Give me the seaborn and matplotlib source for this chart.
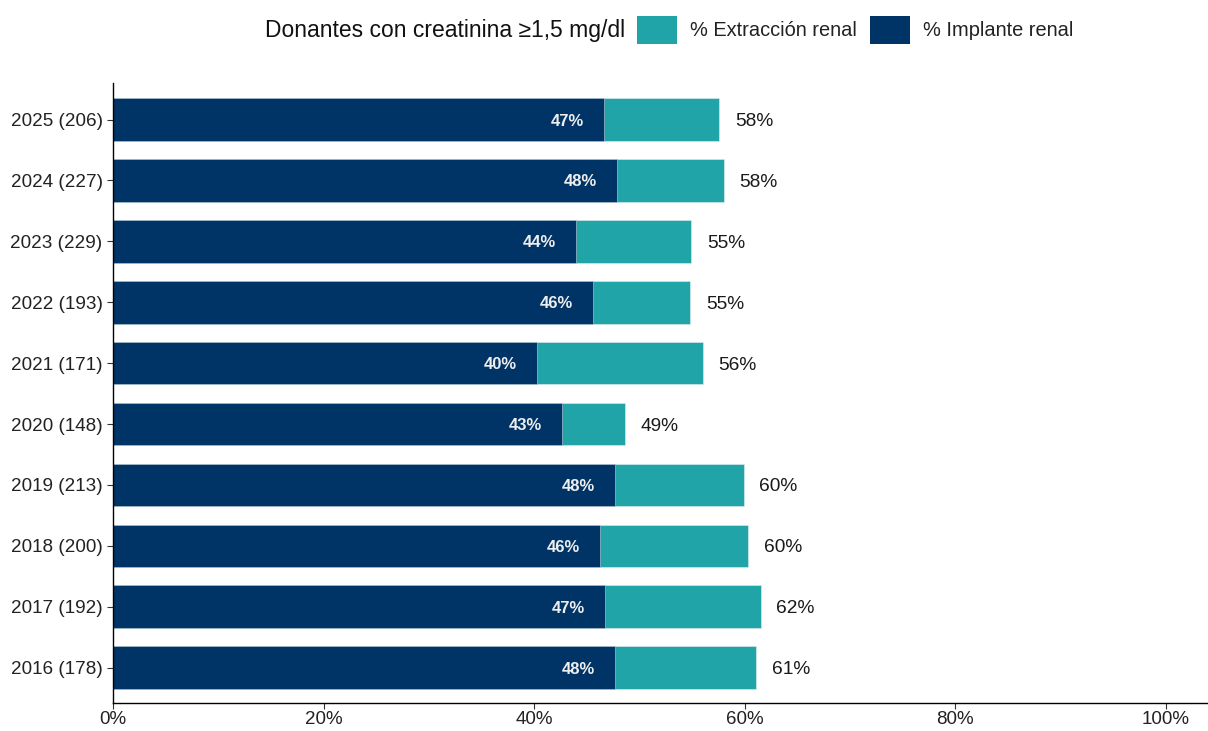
import matplotlib
matplotlib.use("Agg")
import matplotlib.pyplot as plt
import seaborn as sns
import pandas as pd
from matplotlib.patches import Patch
from matplotlib.ticker import FuncFormatter

categories = ["2025 (206)", "2024 (227)", "2023 (229)", "2022 (193)", "2021 (171)",
              "2020 (148)", "2019 (213)", "2018 (200)", "2017 (192)", "2016 (178)"]
implante = [46.6, 47.9, 44.0, 45.6, 40.3, 42.6, 47.7, 46.3, 46.7, 47.7]
extraccion = [57.6, 58.0, 54.9, 54.8, 56.0, 48.6, 59.9, 60.3, 61.5, 61.1]
xticks = [0, 20, 40, 60, 80, 100]

df = pd.DataFrame({"cat": categories, "implante": implante, "extraccion": extraccion})

sns.set_theme(style="white")
plt.rcParams["font.family"] = ["Liberation Sans", "DejaVu Sans"]

c_ext = "#20A4A8"
c_imp = "#003366"

fig = plt.figure(figsize=(12.08, 7.31), dpi=100)
ax = fig.add_axes([113 / 1208, 28 / 731, 1095 / 1208, 620 / 731])

sns.barplot(data=df, y="cat", x="extraccion", orient="h", color=c_ext, width=0.7,
            saturation=1, ax=ax, order=categories, linewidth=0.4, edgecolor="#dfeff0")
sns.barplot(data=df, y="cat", x="implante", orient="h", color=c_imp, width=0.7,
            saturation=1, ax=ax, order=categories, linewidth=0.4, edgecolor="#c9d3df")

for i, (imp, ext) in enumerate(zip(implante, extraccion)):
    ax.text(imp - 1.9, i, f"{round(imp + 1e-9):.0f}%", ha="right", va="center_baseline",
            color="#EEEEEE", fontsize=12, fontweight="bold")
    ax.text(ext + 1.5, i, f"{int(ext + 0.5)}%", ha="left", va="center_baseline",
            color="#1a1a1a", fontsize=13.8)

ax.set_xlim(0, 104)
ax.set_ylim(9.58, -0.6)
ax.set_xticks(xticks)
ax.xaxis.set_major_formatter(FuncFormatter(lambda v, p: f"{v:.0f}%"))
ax.set_xlabel("")
ax.set_ylabel("")
for s in ["top", "right"]:
    ax.spines[s].set_visible(False)
for s in ["left", "bottom"]:
    ax.spines[s].set_color("black")
    ax.spines[s].set_linewidth(1.0)
ax.tick_params(axis="both", which="both", length=4, width=0.8, color="#333333",
               labelcolor="#222222", bottom=True, left=True)
ax.tick_params(axis="x", labelsize=13.5, pad=2)
ax.tick_params(axis="y", labelsize=13.6)
ax.grid(False)

fig.text(625 / 1208, 1 - 30 / 731, "Donantes con creatinina ≥1,5 mg/dl", ha="right",
         va="center", fontsize=16.5, color="#111111")
handles = [Patch(facecolor=c_ext, edgecolor="none"), Patch(facecolor=c_imp, edgecolor="none")]
fig.legend(handles, ["% Extracción renal", "% Implante renal"], ncol=2,
           loc="center left", bbox_to_anchor=(637 / 1208, 1 - 30 / 731),
           frameon=False, fontsize=14.4, handlelength=2.0, handleheight=1.8,
           handletextpad=0.65, columnspacing=0.65, borderpad=0, borderaxespad=0,
           labelcolor="#222222")

fig.savefig("out.png", dpi=100)
